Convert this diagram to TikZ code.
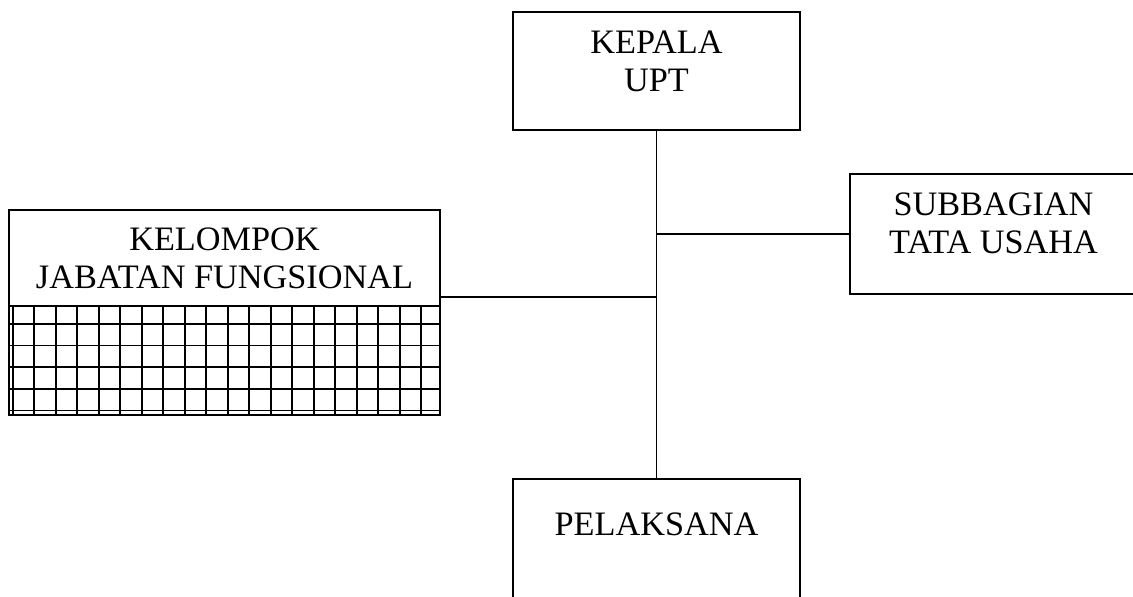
\documentclass[tikz,border=0pt]{standalone}
\usepackage{fontspec}
\setmainfont{Liberation Serif}
\usetikzlibrary{positioning}
\begin{document}
\begin{tikzpicture}[line width=0.8pt]

      \useasboundingbox (0,0) rectangle (22.66,-11.92);
      \clip (0,0) rectangle (22.66,-11.92);

      \begin{scope}[every node/.style={draw, rectangle, inner sep=0pt}]
        \node (kepala)    [minimum width=5.74cm, minimum height=2.36cm] at (13.13,-1.42)  {};
        \node (subbag)    [minimum width=5.74cm, minimum height=2.4cm]  at (19.87,-4.68)  {};
        \node (kelompok)  [minimum width=8.62cm, minimum height=4.1cm]  at (4.49,-6.25)   {};
        \node (pelaksana) [minimum width=5.74cm, minimum height=2.6cm]  at (13.13,-10.88) {};
      \end{scope}

      \begin{scope}[every node/.style={align=center, inner sep=0pt, font=\fontsize{19.5}{21.6}\selectfont}]
        \node (kepalatxt)    [below=0.37cm of kepala.north]    {KEPALA\\UPT};
        \node (subbagtxt)    [below=0.37cm of subbag.north]    {SUBBAGIAN\\TATA USAHA};
        \node (kelompoktxt)  [below=0.35cm of kelompok.north]  {KELOMPOK\\JABATAN FUNGSIONAL};
        \node (pelaksanatxt) [below=0.67cm of pelaksana.north] {PELAKSANA};
      \end{scope}

      % grid in the lower part of the functional group box
      \begin{scope}[line width=1pt]
        \draw (0.18,-6.12) -- (8.8,-6.12);
        \foreach \x in {0,...,19}
          \draw ({0.254+0.43*\x},-6.12) -- ({0.254+0.43*\x},-8.3);
        \foreach \y in {0,...,4}
          \draw (0.18,{-6.48-0.432*\y}) -- (8.8,{-6.48-0.432*\y});
      \end{scope}

      \coordinate (jfjoin) at (kepala.south |- 0,-5.94);

      \begin{scope}[every edge/.style={draw}]
        \path (kepala)      edge (pelaksana);
        \path (subbag.west) edge (subbag.west -| kepala.south);
        \path (jfjoin)      edge (jfjoin -| kelompok.east);
      \end{scope}

    \end{tikzpicture}
\end{document}
